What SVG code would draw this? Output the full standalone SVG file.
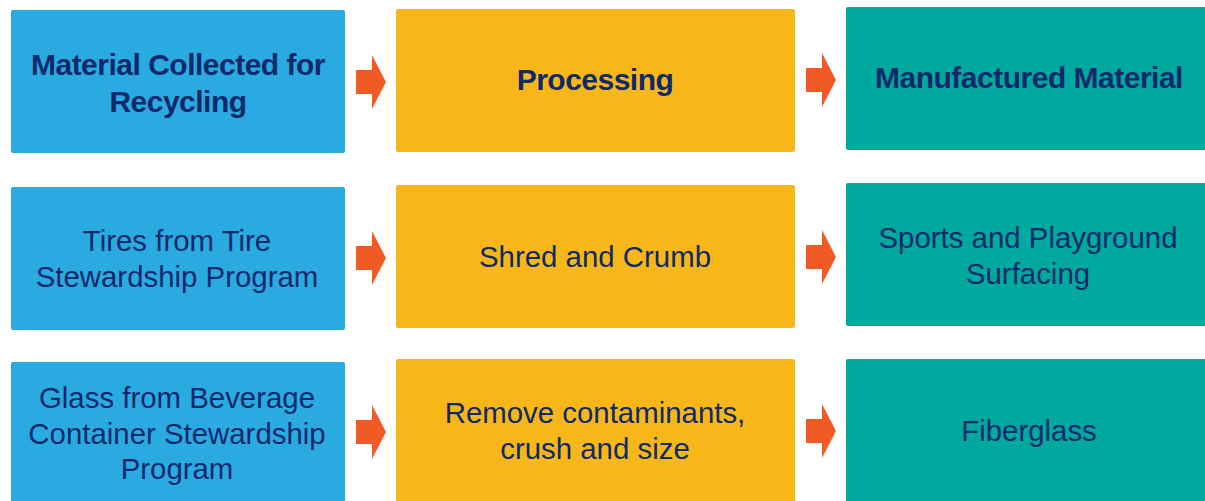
<svg xmlns="http://www.w3.org/2000/svg" width="1205" height="501" viewBox="0 0 1205 501">
<defs>
<style>
.blue{fill:#29abe2}
.yellow{fill:#f8b719}
.teal{fill:#00a99d}
.arrow{fill:#f15a25}
text{font-family:"Liberation Sans",Arial,sans-serif;font-size:29.4px;fill:#10296a;text-anchor:middle}
.b{font-weight:bold;font-size:30px;letter-spacing:-0.5px}
</style>
<polygon id="arr" points="0,-12 16,-12 16,-27 30,0 16,27 16,12 0,12"/>
</defs>
<rect width="1205" height="501" fill="#ffffff"/>
<g id="n-collected"><rect class="blue" x="11" y="10" width="334" height="143" rx="2"/>
<text class="b" x="178" y="75">Material Collected for</text><text class="b" x="178" y="112">Recycling</text></g>
<g id="n-processing"><rect class="yellow" x="396" y="9" width="399" height="143" rx="2"/>
<text class="b" x="595" y="90">Processing</text></g>
<g id="n-manufactured"><rect class="teal" x="846" y="7" width="362" height="143" rx="2"/>
<text class="b" x="1029" y="88">Manufactured Material</text></g>
<g id="n-tires"><rect class="blue" x="11" y="187" width="334" height="143" rx="2"/>
<text x="177" y="251">Tires from Tire</text><text x="177" y="287">Stewardship Program</text></g>
<g id="n-shred"><rect class="yellow" x="396" y="185" width="399" height="143" rx="2"/>
<text x="595" y="267">Shred and Crumb</text></g>
<g id="n-sports"><rect class="teal" x="846" y="183" width="362" height="143" rx="2"/>
<text x="1028" y="248">Sports and Playground</text><text x="1028" y="284">Surfacing</text></g>
<g id="n-glass"><rect class="blue" x="11" y="362" width="334" height="145" rx="2"/>
<text x="177" y="408">Glass from Beverage</text><text x="177" y="444">Container Stewardship</text><text x="177" y="479">Program</text></g>
<g id="n-remove"><rect class="yellow" x="396" y="359" width="399" height="148" rx="2"/>
<text x="595" y="423">Remove contaminants,</text><text x="595" y="459">crush and size</text></g>
<g id="n-fiberglass"><rect class="teal" x="846" y="359" width="362" height="148" rx="2"/>
<text x="1029" y="441">Fiberglass</text></g>
<g id="connectors" class="arrow">
<use href="#arr" x="356" y="82"/>
<use href="#arr" x="806" y="80"/>
<use href="#arr" x="356" y="258"/>
<use href="#arr" x="806" y="257"/>
<use href="#arr" x="356" y="432"/>
<use href="#arr" x="806" y="431"/>
</g>
</svg>
